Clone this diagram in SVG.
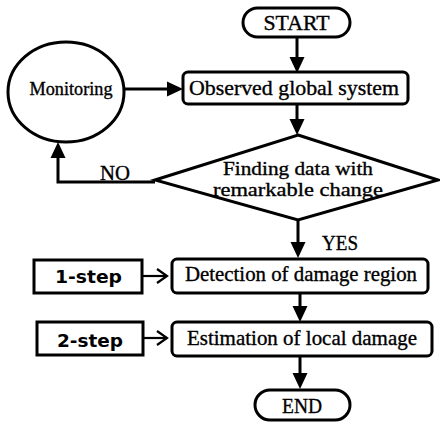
<svg xmlns="http://www.w3.org/2000/svg" width="440" height="423" viewBox="0 0 440 423">
<style>
.shape{fill:#fff;stroke:#000;stroke-width:3}
.line{fill:none;stroke:#000;stroke-width:3}
.thin{fill:none;stroke:#000;stroke-width:2.2}
.t{font-family:"Liberation Serif","Times New Roman",serif;font-size:21px;fill:#000;stroke:#000;stroke-width:0.35;text-anchor:middle}
.s{font-family:"DejaVu Sans","Liberation Sans",sans-serif;font-weight:bold;font-size:17px;fill:#000;text-anchor:middle}
</style>
<defs>
<marker id="ah" markerUnits="userSpaceOnUse" markerWidth="16" markerHeight="16" refX="11" refY="8" orient="auto">
<path d="M0,0.5 L16,8 L0,15.5 z" fill="#000"/>
</marker>
<marker id="oh" markerUnits="userSpaceOnUse" markerWidth="14" markerHeight="18" refX="11" refY="9" orient="auto">
<path d="M1,2 L11,9 L1,16" fill="none" stroke="#000" stroke-width="2.2"/>
</marker>
</defs>
<g id="connectors">
<line class="line" x1="297" y1="37" x2="297" y2="68" marker-end="url(#ah)"/>
<line class="line" x1="124" y1="89" x2="178" y2="89" marker-end="url(#ah)"/>
<line class="line" x1="297" y1="104" x2="297" y2="130" marker-end="url(#ah)"/>
<polyline class="line" points="155,182 58,182 58,147" marker-end="url(#ah)"/>
<text class="t" x="115" y="180" textLength="30" lengthAdjust="spacingAndGlyphs">NO</text>
<line class="line" x1="298" y1="220" x2="298" y2="253" marker-end="url(#ah)"/>
<text class="t" x="340" y="250" textLength="36" lengthAdjust="spacingAndGlyphs">YES</text>
<line class="line" x1="300" y1="293" x2="300" y2="317" marker-end="url(#ah)"/>
<line class="line" x1="300" y1="356" x2="300" y2="384" marker-end="url(#ah)"/>
<line class="thin" x1="142" y1="276" x2="167" y2="276" marker-end="url(#oh)"/>
<line class="thin" x1="143" y1="338" x2="167" y2="338" marker-end="url(#oh)"/>
</g>
<g id="start">
<rect class="shape" x="243" y="8" width="107" height="29" rx="14.5"/>
<text class="t" x="296.5" y="30" textLength="66" lengthAdjust="spacingAndGlyphs">START</text>
</g>
<g id="monitoring">
<ellipse class="shape" cx="66" cy="92" rx="58" ry="50"/>
<text class="t" x="71" y="95" style="font-size:19px" textLength="83" lengthAdjust="spacingAndGlyphs">Monitoring</text>
</g>
<g id="observed">
<rect class="shape" x="183" y="72" width="225" height="32" rx="5"/>
<text class="t" x="294" y="95" textLength="210" lengthAdjust="spacingAndGlyphs">Observed global system</text>
</g>
<g id="decision">
<polygon class="shape" points="298,135 438,180 298,220 155,180"/>
<text class="t" x="298" y="175" style="font-size:18.5px" textLength="150" lengthAdjust="spacingAndGlyphs">Finding data with</text>
<text class="t" x="298" y="196" style="font-size:18.5px" textLength="170" lengthAdjust="spacingAndGlyphs">remarkable change</text>
</g>
<g id="step1">
<rect class="shape" x="34" y="260" width="108" height="33"/>
<text class="s" x="88.5" y="283" textLength="67" lengthAdjust="spacingAndGlyphs">1-step</text>
</g>
<g id="detection">
<rect class="shape" x="172" y="259" width="256" height="34" rx="5"/>
<text class="t" x="301" y="281" textLength="232" lengthAdjust="spacingAndGlyphs">Detection of damage region</text>
</g>
<g id="step2">
<rect class="shape" x="37" y="322" width="106" height="33"/>
<text class="s" x="90" y="347" textLength="66" lengthAdjust="spacingAndGlyphs">2-step</text>
</g>
<g id="estimation">
<rect class="shape" x="172" y="322" width="260" height="34" rx="5"/>
<text class="t" x="302" y="345" textLength="230" lengthAdjust="spacingAndGlyphs">Estimation of local damage</text>
</g>
<g id="end">
<rect class="shape" x="255" y="390" width="95" height="30" rx="15"/>
<text class="t" x="302" y="413" textLength="40" lengthAdjust="spacingAndGlyphs">END</text>
</g>
</svg>
